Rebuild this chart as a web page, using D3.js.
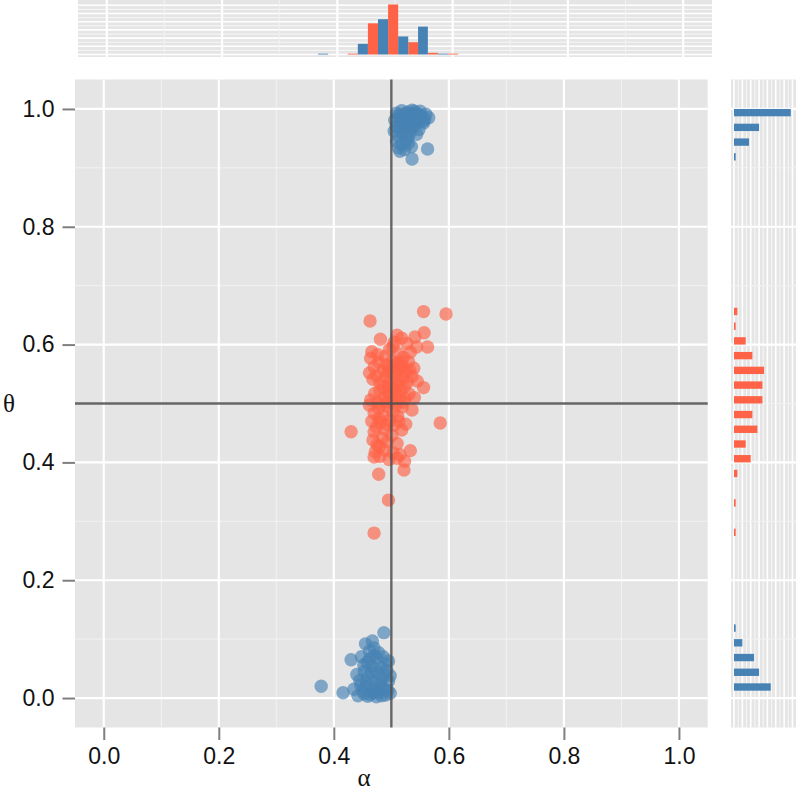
<!DOCTYPE html>
<html>
<head>
<meta charset="utf-8">
<script src="https://cdn.jsdelivr.net/npm/d3@7"></script>
<style>
  body { margin: 0; background: #fff; }
  svg { display: block; }
</style>
</head>
<body>
<svg id="chart" width="796" height="792"></svg>
<script>
// scatter points: [alpha, theta]
const redPoints = [
  [0.556,0.656],[0.595,0.652],
  [0.463,0.640],
  [0.510,0.616],[0.518,0.611],[0.541,0.613],[0.557,0.620],[0.481,0.609],[0.505,0.604],[0.527,0.602],
  [0.544,0.596],[0.563,0.596],[0.466,0.588],[0.464,0.577],[0.497,0.592],[0.512,0.585],[0.489,0.580],[0.521,0.578],[0.503,0.597],[0.476,0.583],[0.533,0.587],
  [0.462,0.552],[0.539,0.560],[0.478,0.570],[0.491,0.566],[0.502,0.572],[0.511,0.568],[0.520,0.563],[0.530,0.571],[0.486,0.556],[0.497,0.560],[0.508,0.555],[0.515,0.558],[0.525,0.553],[0.470,0.562],[0.504,0.565],[0.517,0.571],[0.494,0.553],[0.532,0.556],
  [0.468,0.541],[0.480,0.535],[0.490,0.545],[0.499,0.538],[0.507,0.548],[0.513,0.531],[0.520,0.543],[0.528,0.536],[0.536,0.546],[0.556,0.527],[0.486,0.528],[0.503,0.527],[0.511,0.541],[0.523,0.529],[0.495,0.530],[0.474,0.547],[0.545,0.538],
  [0.464,0.506],[0.471,0.517],[0.480,0.522],[0.488,0.510],[0.495,0.519],[0.502,0.504],[0.509,0.514],[0.516,0.521],[0.524,0.508],[0.531,0.516],[0.476,0.502],[0.492,0.503],[0.498,0.512],[0.506,0.523],[0.513,0.507],[0.520,0.502],[0.540,0.510],
  [0.536,0.489],[0.462,0.497],[0.470,0.484],[0.478,0.492],[0.486,0.479],[0.494,0.495],[0.503,0.486],[0.511,0.478],[0.519,0.494],[0.483,0.498],[0.507,0.497],
  [0.585,0.467],[0.430,0.452],[0.518,0.455],[0.466,0.470],[0.474,0.460],[0.481,0.468],[0.489,0.456],[0.497,0.472],[0.505,0.463],[0.513,0.470],[0.525,0.465],[0.470,0.452],[0.493,0.464],[0.478,0.474],
  [0.475,0.430],[0.484,0.441],[0.493,0.435],[0.501,0.446],[0.468,0.438],[0.479,0.427],[0.510,0.432],
  [0.533,0.420],[0.510,0.407],[0.515,0.413],[0.472,0.418],[0.480,0.410],[0.488,0.421],[0.496,0.405],[0.503,0.416],[0.470,0.409],[0.523,0.402],
  [0.478,0.380],[0.522,0.387],
  [0.495,0.336],
  [0.470,0.280]
];

const bluePoints = [
  // upper group
  [0.512,0.985],[0.520,0.990],[0.528,0.995],[0.536,0.998],[0.544,0.993],[0.552,0.988],[0.560,0.991],[0.565,0.985],
  [0.515,0.978],[0.523,0.982],[0.531,0.987],[0.539,0.980],[0.547,0.984],[0.555,0.979],[0.509,0.993],[0.518,0.997],
  [0.526,0.979],[0.534,0.990],[0.542,0.986],[0.550,0.996],[0.558,0.982],[0.506,0.981],[0.530,0.983],[0.538,0.992],
  [0.546,0.977],[0.521,0.986],[0.513,0.990],[0.540,0.996],[0.533,0.977],[0.549,0.990],[0.525,0.992],[0.543,0.981],
  [0.517,0.983],[0.556,0.976],
  [0.508,0.970],[0.516,0.962],[0.524,0.968],[0.532,0.958],[0.540,0.972],[0.548,0.965],[0.511,0.955],[0.520,0.973],
  [0.528,0.952],[0.536,0.966],[0.505,0.962],[0.544,0.957],[0.514,0.968],[0.531,0.971],[0.522,0.957],
  [0.563,0.932],[0.515,0.928],[0.509,0.945],[0.518,0.940],[0.527,0.947],[0.535,0.936],[0.512,0.934],[0.523,0.931],[0.530,0.942],
  [0.536,0.915],
  // lower group
  [0.487,0.111],
  [0.462,0.080],[0.470,0.085],[0.478,0.077],[0.455,0.092],[0.467,0.097],
  [0.430,0.065],[0.448,0.070],[0.458,0.060],[0.466,0.055],[0.474,0.068],[0.482,0.052],[0.490,0.058],[0.495,0.063],
  [0.470,0.072],[0.452,0.056],[0.486,0.070],[0.462,0.066],
  [0.445,0.030],[0.453,0.045],[0.460,0.036],[0.468,0.028],[0.476,0.042],[0.484,0.033],[0.492,0.047],[0.498,0.038],
  [0.440,0.040],[0.457,0.027],[0.472,0.048],[0.480,0.025],[0.488,0.040],[0.465,0.043],[0.495,0.029],
  [0.378,0.020],[0.416,0.009],[0.435,0.015],[0.442,0.004],[0.450,0.012],[0.456,0.020],[0.463,0.006],[0.469,0.016],
  [0.474,0.002],[0.479,0.010],[0.485,0.018],[0.490,0.005],[0.494,0.013],[0.498,0.008],[0.447,0.022],[0.459,0.003],
  [0.466,0.011],[0.477,0.021],[0.483,0.004],[0.488,0.014],[0.453,0.007],[0.471,0.009]
];

// top histogram (alpha): bin edges and counts per group
const alphaBinEdges = [0.349, 0.384, 0.418, 0.453, 0.488, 0.523, 0.557, 0.592, 0.627];
const alphaRedCounts = [0, 0, 1, 38, 61, 15, 2, 1];
const alphaBlueCounts = [1, 0, 13, 43, 22, 34, 1, 0];

// right histogram (theta): lower bin edges and counts, bin width 0.025
const thetaBinWidth = 0.025;
const thetaRedLow = [0.275, 0.300, 0.325, 0.350, 0.375, 0.400, 0.425, 0.450, 0.475, 0.500, 0.525, 0.550, 0.575, 0.600, 0.625, 0.650];
const thetaRedCounts = [1, 0, 1, 0, 2, 10, 7, 14, 11, 17, 17, 18, 11, 7, 1, 2];
const thetaBlueLow = [0.000, 0.025, 0.050, 0.075, 0.100, 0.900, 0.925, 0.950, 0.975];
const thetaBlueCounts = [22, 15, 12, 5, 1, 1, 9, 15, 34];

const axisTicks = [0, 0.2, 0.4, 0.6, 0.8, 1.0];
const minorTicks = [0.1, 0.3, 0.5, 0.7, 0.9];
const xTitle = 'α', yTitle = 'θ';

const RED = '#FF6347', BLUE = '#4682B4';
const PANEL_BG = '#E5E5E5', MINOR = '#F2F2F2';

const svg = d3.select('#chart');

// main panel
const main = { left: 75, right: 707.7, top: 79.5, bottom: 727.5 };
const xScale = d3.scaleLinear().domain([-0.05, 1.05]).range([main.left, main.right]);
const yScale = d3.scaleLinear().domain([-0.05, 1.05]).range([main.bottom, main.top]);

// top marginal panel
const topP = { left: 78, right: 712, top: 0, bottom: 57 };
const xTop = d3.scaleLinear().domain([-0.05, 1.05]).range([topP.left, topP.right]);
const yTop = d3.scaleLinear().domain([0, 64]).range([54.5, 2]);

// right marginal panel
const rightP = { left: 731, right: 796, top: main.top, bottom: main.bottom };
const xRight = d3.scaleLinear().domain([0, 37]).range([734, 795.8]);

function panelBg(p) {
  svg.append('rect')
    .attr('x', p.left).attr('y', p.top)
    .attr('width', p.right - p.left).attr('height', p.bottom - p.top)
    .attr('fill', PANEL_BG);
}

function vLines(g, values, scale, p, color, w) {
  g.selectAll(null).data(values).join('line')
    .attr('x1', d => scale(d)).attr('x2', d => scale(d))
    .attr('y1', p.top).attr('y2', p.bottom)
    .attr('stroke', color).attr('stroke-width', w);
}

function hLines(g, values, scale, p, color, w) {
  g.selectAll(null).data(values).join('line')
    .attr('y1', d => scale(d)).attr('y2', d => scale(d))
    .attr('x1', p.left).attr('x2', p.right)
    .attr('stroke', color).attr('stroke-width', w);
}

// ---- main scatter ----
panelBg(main);
const grid = svg.append('g');
vLines(grid, minorTicks, xScale, main, MINOR, 1);
hLines(grid, minorTicks, yScale, main, MINOR, 1);
vLines(grid, axisTicks, xScale, main, '#fff', 2.2);
hLines(grid, axisTicks, yScale, main, '#fff', 2.2);

const dots = svg.append('g');
dots.selectAll('circle.red').data(redPoints).join('circle')
  .attr('class', 'red')
  .attr('cx', d => xScale(d[0])).attr('cy', d => yScale(d[1]))
  .attr('r', 6.7).attr('fill', RED).attr('fill-opacity', 0.65);
dots.selectAll('circle.blue').data(bluePoints).join('circle')
  .attr('class', 'blue')
  .attr('cx', d => xScale(d[0])).attr('cy', d => yScale(d[1]))
  .attr('r', 6.7).attr('fill', BLUE).attr('fill-opacity', 0.65);

// reference lines at 0.5
svg.append('line')
  .attr('x1', xScale(0.5)).attr('x2', xScale(0.5))
  .attr('y1', main.top).attr('y2', main.bottom)
  .attr('stroke', '#4d4d4d').attr('stroke-opacity', 0.85).attr('stroke-width', 2.4);
svg.append('line')
  .attr('y1', yScale(0.5)).attr('y2', yScale(0.5))
  .attr('x1', main.left).attr('x2', main.right)
  .attr('stroke', '#4d4d4d').attr('stroke-opacity', 0.85).attr('stroke-width', 2.4);

// axes
const xAxis = svg.append('g')
  .attr('transform', `translate(0,${main.bottom})`)
  .call(d3.axisBottom(xScale).tickValues(axisTicks).tickFormat(d3.format('.1f')).tickSize(12.5).tickPadding(8));
const yAxis = svg.append('g')
  .attr('transform', `translate(${main.left},0)`)
  .call(d3.axisLeft(yScale).tickValues(axisTicks).tickFormat(d3.format('.1f')).tickSize(12.5).tickPadding(8));

[xAxis, yAxis].forEach(a => {
  a.select('.domain').remove();
  a.selectAll('.tick line').attr('stroke', '#7f7f7f').attr('stroke-width', 2);
  a.selectAll('.tick text')
    .attr('fill', '#111')
    .style('font-family', '"Liberation Sans", Arial, sans-serif')
    .style('font-size', '23px');
});

svg.append('text')
  .attr('x', 364).attr('y', 786)
  .attr('text-anchor', 'middle')
  .style('font-family', '"Liberation Serif", "DejaVu Serif", serif')
  .style('font-size', '25px')
  .attr('fill', '#111')
  .text(xTitle);
svg.append('text')
  .attr('x', 9).attr('y', 412)
  .attr('text-anchor', 'middle')
  .style('font-family', '"Liberation Serif", "DejaVu Serif", serif')
  .style('font-size', '25px')
  .attr('fill', '#111')
  .text(yTitle);

// ---- top histogram ----
panelBg(topP);
const topGrid = svg.append('g');
const topMajor = yTop.ticks(6);
const topMinor = topMajor.slice(0, -1).map((d, i) => (d + topMajor[i + 1]) / 2);
hLines(topGrid, topMinor, yTop, topP, '#F7F7F7', 1);
hLines(topGrid, topMajor, yTop, topP, '#fff', 1.6);
vLines(topGrid, minorTicks, xTop, topP, MINOR, 1);
vLines(topGrid, axisTicks, xTop, topP, '#fff', 2.2);

const alphaBins = alphaBinEdges.slice(0, -1).map((lo, i) => ({
  lo, hi: alphaBinEdges[i + 1], red: alphaRedCounts[i], blue: alphaBlueCounts[i]
}));
const topBars = svg.append('g');
topBars.selectAll('rect.red').data(alphaBins.filter(d => d.red > 0)).join('rect')
  .attr('x', d => xTop(d.lo))
  .attr('width', d => (xTop(d.hi) - xTop(d.lo)) / 2)
  .attr('y', d => yTop(d.red))
  .attr('height', d => yTop(0) - yTop(d.red))
  .attr('fill', RED);
topBars.selectAll('rect.blue').data(alphaBins.filter(d => d.blue > 0)).join('rect')
  .attr('x', d => (xTop(d.lo) + xTop(d.hi)) / 2)
  .attr('width', d => (xTop(d.hi) - xTop(d.lo)) / 2)
  .attr('y', d => yTop(d.blue))
  .attr('height', d => yTop(0) - yTop(d.blue))
  .attr('fill', BLUE);

// ---- right histogram ----
panelBg(rightP);
const rightGrid = svg.append('g');
const rightMajor = xRight.ticks(8);
const rightMinor = rightMajor.slice(0, -1).map((d, i) => (d + rightMajor[i + 1]) / 2);
vLines(rightGrid, rightMinor, xRight, rightP, '#F7F7F7', 1);
vLines(rightGrid, rightMajor, xRight, rightP, '#fff', 1.6);
hLines(rightGrid, minorTicks, yScale, rightP, MINOR, 1);
hLines(rightGrid, axisTicks, yScale, rightP, '#fff', 2.2);

const rightBars = svg.append('g');
const redTheta = thetaRedLow.map((lo, i) => ({ lo, n: thetaRedCounts[i] })).filter(d => d.n > 0);
const blueTheta = thetaBlueLow.map((lo, i) => ({ lo, n: thetaBlueCounts[i] })).filter(d => d.n > 0);
rightBars.selectAll('rect.red').data(redTheta).join('rect')
  .attr('x', xRight(0))
  .attr('width', d => xRight(d.n) - xRight(0))
  .attr('y', d => yScale(d.lo + thetaBinWidth / 2))
  .attr('height', d => yScale(d.lo) - yScale(d.lo + thetaBinWidth / 2))
  .attr('fill', RED);
rightBars.selectAll('rect.blue').data(blueTheta).join('rect')
  .attr('x', xRight(0))
  .attr('width', d => xRight(d.n) - xRight(0))
  .attr('y', d => yScale(d.lo + thetaBinWidth))
  .attr('height', d => yScale(d.lo + thetaBinWidth / 2) - yScale(d.lo + thetaBinWidth))
  .attr('fill', BLUE);
</script>
</body>
</html>
